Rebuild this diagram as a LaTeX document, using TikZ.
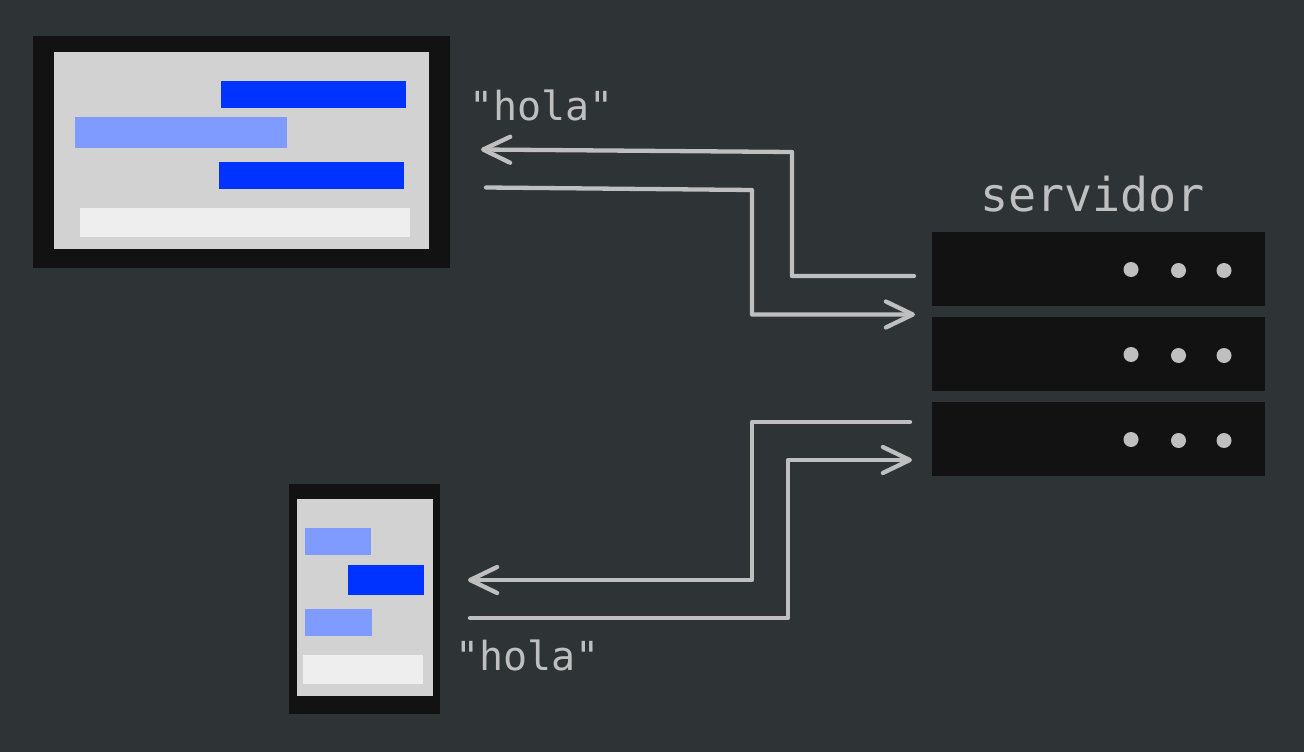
\documentclass[tikz,border=0pt]{standalone}
\usepackage{fontspec}
\setmonofont{DejaVu Sans Mono}
\usetikzlibrary{arrows.meta}
\definecolor{bgc}{HTML}{2E3336}
\definecolor{darkc}{HTML}{121212}
\definecolor{screenc}{HTML}{D2D2D2}
\definecolor{bluec}{HTML}{0033FF}
\definecolor{lightc}{HTML}{809BFF}
\definecolor{whitec}{HTML}{EEEEEE}
\definecolor{linec}{HTML}{BFBFBF}
\newcommand{\blk}[6]{\node[block,fill=#6,minimum width={(#4-#2)*1pt},minimum height={(#5-#3)*1pt}] (#1) at ({(#2+#4)/2},{(#3+#5)/2}) {};}
\newcommand{\dotn}[3]{\node[ledot] (#1) at (#2,#3) {};}
\tikzset{
  block/.style={inner sep=0pt,outer sep=0pt,draw=none},
  ledot/.style={circle,fill=linec,inner sep=0pt,outer sep=0pt,minimum size=15pt},
  wire/.style={draw=linec,line width=4.3pt,line join=round,line cap=round},
  tipped/.style={wire,-{Straight Barb[length=27pt,width=26pt,line width=4.3pt,round]}},
  label/.style={anchor=base west,inner sep=0pt,outer sep=0pt,text=linec,font=\ttfamily}
}
\begin{document}
\begin{tikzpicture}[x=1pt,y=-1pt]
\fill[bgc] (0,0) rectangle (1304,752);
\useasboundingbox (0,0) rectangle (1304,752);
% desktop
\blk{dframe}{33}{36}{449.5}{268}{darkc}
\blk{dscreen}{54}{52}{429}{249}{screenc}
\blk{dm1}{221}{81}{406}{108}{bluec}
\blk{dm2}{75}{117}{287}{148}{lightc}
\blk{dm3}{219}{162}{404}{189}{bluec}
\blk{dinput}{80}{208}{410}{237}{whitec}
% phone
\blk{pframe}{289.3}{483.7}{440.3}{714.3}{darkc}
\blk{pscreen}{296.7}{499}{433}{696}{screenc}
\blk{pm1}{304.5}{528}{371.3}{555}{lightc}
\blk{pm2}{348}{564.7}{424.3}{595}{bluec}
\blk{pm3}{305}{609}{372.3}{636}{lightc}
\blk{pinput}{303}{655}{423}{684}{whitec}
% server
\blk{s1}{932}{232}{1265}{306}{darkc}
\blk{s2}{932}{317}{1265}{391}{darkc}
\blk{s3}{932}{402}{1265}{476}{darkc}
\dotn{a1}{1131}{269.5}\dotn{a2}{1178.5}{270.5}\dotn{a3}{1224}{270.5}
\dotn{b1}{1131}{354.5}\dotn{b2}{1178.5}{355.5}\dotn{b3}{1224}{355.5}
\dotn{c1}{1131}{439.5}\dotn{c2}{1178.5}{440.5}\dotn{c3}{1224}{440.5}
% labels
\node[label,font=\ttfamily\fontsize{46.7}{46.7}\selectfont] (srv) at (980,211) {servidor};
\node[label,font=\ttfamily\fontsize{40}{40}\selectfont] (h1) at (469.5,121) {"hola"};
\node[label,font=\ttfamily\fontsize{40}{40}\selectfont] (h2) at (455.5,670) {"hola"};
% connector ends
\coordinate (e1) at (914,276);
\coordinate (e1a) at (792,276);
\coordinate (e1b) at (792,152);
\coordinate (e1c) at (481,149.5);
\coordinate (e2) at (486,187.5);
\coordinate (e2a) at (752,190);
\coordinate (e2b) at (752,314.5);
\coordinate (e2c) at (915,314.5);
\coordinate (e3) at (910,422);
\coordinate (e3a) at (752,422);
\coordinate (e3b) at (752,580);
\coordinate (e3c) at (468,580);
\coordinate (e4) at (470,618);
\coordinate (e4a) at (788,618);
\coordinate (e4b) at (788,460);
\coordinate (e4c) at (912,460);
\draw[tipped] (e1) -- (e1a) -- (e1b) -- (e1c);
\draw[tipped] (e2) -- (e2a) -- (e2b) -- (e2c);
\draw[tipped] (e3) -- (e3a) -- (e3b) -- (e3c);
\draw[tipped] (e4) -- (e4a) -- (e4b) -- (e4c);
\end{tikzpicture}
\end{document}
